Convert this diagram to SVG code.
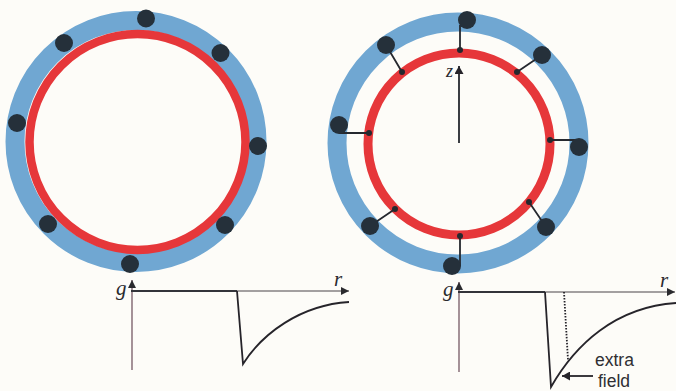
<svg xmlns="http://www.w3.org/2000/svg" width="676" height="391" viewBox="0 0 676 391">
<style>
.blue{fill:none;stroke:#70a7d2}
.red{fill:none;stroke:#e6373a}
.big{fill:#25303a}
.small{fill:#25282e}
.link{stroke:#25282e;stroke-width:1.8;fill:none}
.axis{stroke:#4a4548;stroke-width:1.2;fill:none}
.vaxis{stroke:#6a4a58;stroke-width:1.2;fill:none}
.curve{stroke:#26242a;stroke-width:1.8;fill:none}
.base{stroke:#33343a;stroke-width:2;fill:none}
.sym{font-family:"Liberation Serif",serif;font-style:italic;font-size:21px;fill:#2a2a2e}
.lab{font-family:"Liberation Sans",sans-serif;font-size:17.500px;fill:#2f2f33}
</style>
<defs>
<marker id="a" markerUnits="userSpaceOnUse" markerWidth="9" markerHeight="8" refX="8" refY="4" orient="auto"><path d="M0 0L8 4L0 8Z" fill="#2a2a2e"/></marker>
<marker id="b" markerUnits="userSpaceOnUse" markerWidth="9" markerHeight="9" refX="8" refY="4.500" orient="auto"><path d="M0 0L8 4.500L0 9Z" fill="#26242a"/></marker>
</defs>
<rect id="paper" width="676" height="391" fill="#fdfcf8"/>
<g id="left-rings">
<circle class="blue" cx="136" cy="141.500" r="121" stroke-width="19"/>
<circle class="red" cx="137.500" cy="142" r="108" stroke-width="8.500"/>
</g>
<g id="right-rings">
<circle class="blue" cx="458" cy="143" r="121" stroke-width="19"/>
<circle class="red" cx="459" cy="144" r="91" stroke-width="9"/>
</g>
<g id="connectors">
<path class="link" d="M460 50V25M402 72L386 45M517 72L542 55M369 133H339M550 140H579M395 209L370 226M529 202L546 227M460 236V266"/>
<path class="link" d="M459 143V66" marker-end="url(#b)"/>
<path class="vaxis" d="M132 370V280" marker-end="url(#a)"/>
<path class="axis" d="M131 291H349" marker-end="url(#a)"/>
<path class="base" d="M131 291H237"/>
<path class="curve" d="M237 291L243 364C262 334 300 305 349 302"/>
<path class="vaxis" d="M459 372V282" marker-end="url(#a)"/>
<path class="axis" d="M458 292H675" marker-end="url(#a)"/>
<path class="base" d="M458 292H545"/>
<path class="curve" d="M545 292L551 387C575 345 615 307 676 303"/>
<path class="curve" stroke-dasharray="1.500 1.500" d="M564 292L568 360"/>
<path class="curve" d="M593 376H562" marker-end="url(#b)"/>
</g>
<g id="node-l1"><circle class="big" cx="146" cy="18.500" r="9"/></g>
<g id="node-l2"><circle class="big" cx="64" cy="43" r="9"/></g>
<g id="node-l3"><circle class="big" cx="220.500" cy="53" r="9"/></g>
<g id="node-l4"><circle class="big" cx="17" cy="123" r="9"/></g>
<g id="node-l5"><circle class="big" cx="258" cy="146" r="9"/></g>
<g id="node-l6"><circle class="big" cx="48" cy="224" r="9"/></g>
<g id="node-l7"><circle class="big" cx="225" cy="225" r="9"/></g>
<g id="node-l8"><circle class="big" cx="130" cy="264" r="9"/></g>
<g id="node-r1"><circle class="big" cx="467" cy="20" r="9"/><circle class="small" cx="460" cy="50" r="3"/></g>
<g id="node-r2"><circle class="big" cx="386" cy="45" r="9"/><circle class="small" cx="402" cy="72" r="3"/></g>
<g id="node-r3"><circle class="big" cx="542" cy="55" r="9"/><circle class="small" cx="517" cy="72" r="3"/></g>
<g id="node-r4"><circle class="big" cx="339" cy="125" r="9"/><circle class="small" cx="369" cy="133" r="3"/></g>
<g id="node-r5"><circle class="big" cx="579" cy="147" r="9"/><circle class="small" cx="550" cy="140" r="3"/></g>
<g id="node-r6"><circle class="big" cx="370" cy="226" r="9"/><circle class="small" cx="395" cy="209" r="3"/></g>
<g id="node-r7"><circle class="big" cx="546" cy="227" r="9"/><circle class="small" cx="529" cy="202" r="3"/></g>
<g id="node-r8"><circle class="big" cx="452" cy="266" r="9"/><circle class="small" cx="460" cy="236" r="3"/></g>
<g id="labels">
<text class="sym" x="446" y="77" style="font-size:18px">z</text>
<text class="sym" x="116" y="295">g</text>
<text class="sym" x="334" y="286">r</text>
<text class="sym" x="443" y="296">g</text>
<text class="sym" x="660" y="287">r</text>
<text class="lab" x="595" y="366">extra</text>
<text class="lab" x="598" y="387">field</text>
</g>
</svg>
